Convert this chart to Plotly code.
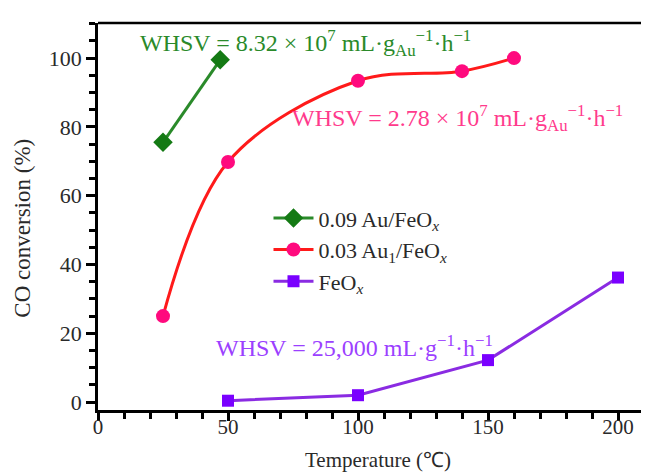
import plotly.graph_objects as go

# Data
temp_au09 = [25, 47]
conv_au09 = [75.5, 99.5]
temp_au1 = [25, 50, 100, 140, 160]
conv_au1 = [25, 69.8, 93.4, 96.2, 100]
temp_feox = [50, 100, 150, 200]
conv_feox = [0.4, 2.0, 12.2, 36.2]

names = ["0.09 Au/FeO<sub><i>x</i></sub>", "0.03 Au<sub>1</sub>/FeO<sub><i>x</i></sub>", "FeO<sub><i>x</i></sub>"]
x_ticks = [0, 50, 100, 150, 200]
y_ticks = [0, 20, 40, 60, 80, 100]

FONT = "Liberation Serif, Times New Roman, serif"
TXT = "#2a2a2a"

fig = go.Figure()
fig.add_trace(go.Scatter(x=temp_au09, y=conv_au09, mode="lines+markers", name=names[0],
                         line=dict(color="#2a8a2a", width=3),
                         marker=dict(symbol="diamond", size=15, color="#147a14")))
fig.add_trace(go.Scatter(x=temp_au1, y=conv_au1, mode="lines+markers", name=names[1],
                         line=dict(color="#ff1a1a", width=3, shape="spline", smoothing=1.0),
                         marker=dict(symbol="circle", size=14, color="#ff0a7e")))
fig.add_trace(go.Scatter(x=temp_feox, y=conv_feox, mode="lines+markers", name=names[2],
                         line=dict(color="#8a2be2", width=3),
                         marker=dict(symbol="square", size=12, color="#7a00ff")))

ann_font = 24
fig.add_annotation(x=15.5, y=104.4, xref="x", yref="y", xanchor="left", yanchor="middle", showarrow=False,
                   text="WHSV = 8.32 × 10<sup>7</sup> mL·g<sub>Au</sub><sup>−1</sup>·h<sup>−1</sup>",
                   font=dict(family=FONT, size=ann_font, color="#2a8a2a"))
fig.add_annotation(x=74, y=82.6, xref="x", yref="y", xanchor="left", yanchor="middle", showarrow=False,
                   text="WHSV = 2.78 × 10<sup>7</sup> mL·g<sub>Au</sub><sup>−1</sup>·h<sup>−1</sup>",
                   font=dict(family=FONT, size=ann_font, color="#ff3a8c"))
fig.add_annotation(x=44.5, y=16.3, xref="x", yref="y", xanchor="left", yanchor="middle", showarrow=False,
                   text="WHSV = 25,000 mL·g<sup>−1</sup>·h<sup>−1</sup>",
                   font=dict(family=FONT, size=ann_font, color="#9b40ff"))

# Axis titles
fig.add_annotation(x=0.50, y=-0.128, xref="paper", yref="paper", xanchor="center", yanchor="middle", showarrow=False,
                   text="Temperature (℃)", font=dict(family=FONT, size=21, color=TXT))
fig.add_annotation(x=-0.135, y=0.47, xref="paper", yref="paper", xanchor="center", yanchor="middle", showarrow=False,
                   text="CO conversion (%)", textangle=-90, font=dict(family=FONT, size=23, color=TXT))

fig.update_layout(
    width=649, height=473,
    margin=dict(l=90, r=0, t=15, b=71),
    paper_bgcolor="white", plot_bgcolor="white",
    font=dict(family=FONT, size=22, color=TXT),
    showlegend=True,
    legend=dict(x=0.305, y=0.55, xanchor="left", yanchor="top", bgcolor="rgba(0,0,0,0)",
                font=dict(family=FONT, size=22, color=TXT), tracegroupgap=0, itemwidth=40),
)
fig.update_xaxes(range=[0, 215], tickmode="array", tickvals=x_ticks,
                 ticks="outside", ticklen=8, tickwidth=2.5, tickcolor="black", ticklabelstandoff=-12,
                 showline=True, linewidth=2.5, linecolor="black", mirror=False,
                 showgrid=False, zeroline=False,
                 minor=dict(dtick=10, tick0=0, ticks="outside", ticklen=6, tickwidth=2.5, tickcolor="black", showgrid=False),
                 tickfont=dict(family=FONT, size=21, color=TXT))
fig.update_yaxes(range=[-2.3, 110.2], tickmode="array", tickvals=y_ticks,
                 ticks="outside", ticklen=9, tickwidth=2.5, tickcolor="black",
                 showline=True, linewidth=2.5, linecolor="black",
                 showgrid=False, zeroline=False,
                 minor=dict(dtick=5, tick0=0, ticks="outside", ticklen=6, tickwidth=2.5, tickcolor="black", showgrid=False),
                 tickfont=dict(family=FONT, size=22, color=TXT))
# top border line
fig.add_shape(type="line", xref="paper", yref="paper", x0=0, x1=1, y0=1, y1=1,
              line=dict(color="black", width=2.5))

fig.write_html("out.html")
